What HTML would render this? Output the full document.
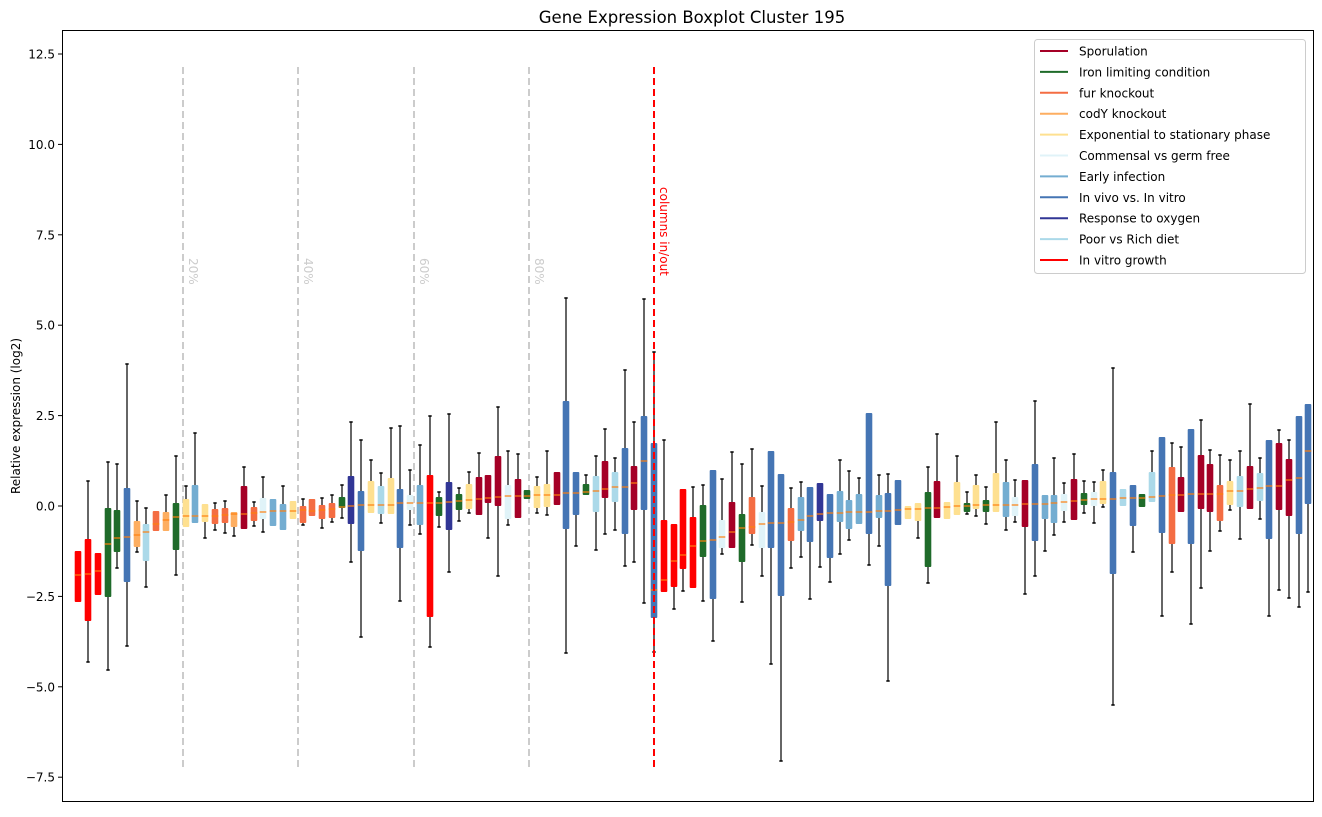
<!DOCTYPE html>
<html><head><meta charset="utf-8"><style>
html,body{margin:0;padding:0;background:#fff;}
svg text{font-family:"DejaVu Sans","Liberation Sans",sans-serif;}
</style></head><body>
<svg id="s" width="1322" height="812" xmlns="http://www.w3.org/2000/svg">
<rect width="1322" height="812" fill="#fff"/>
<text x="692" y="23" font-size="16.5" text-anchor="middle">Gene Expression Boxplot Cluster 195</text>
<text transform="translate(20,416) rotate(-90)" font-size="12" text-anchor="middle">Relative expression (log2)</text>
<g id="yt" font-size="12" text-anchor="end"></g>
<g stroke="#cccccc" stroke-width="2" stroke-dasharray="7,4">
<line x1="183" y1="67" x2="183" y2="767"/><line x1="298" y1="67" x2="298" y2="767"/>
<line x1="414" y1="67" x2="414" y2="767"/><line x1="529" y1="67" x2="529" y2="767"/>
</g>
<g font-size="12" fill="#cccccc">
<text transform="translate(189,258) rotate(90)">20%</text>
<text transform="translate(304,258) rotate(90)">40%</text>
<text transform="translate(420,258) rotate(90)">60%</text>
<text transform="translate(535,258) rotate(90)">80%</text>
</g>
<g id="bx"></g>
<line x1="654" y1="67" x2="654" y2="767" stroke="#ff0000" stroke-width="2" stroke-dasharray="7,4"/>
<text transform="translate(660,187) rotate(90)" font-size="12" fill="#ff0000">columns in/out</text>
<rect x="62.5" y="30.5" width="1251" height="771" fill="none" stroke="#000" stroke-width="1"/>
<g id="lg"></g>
</svg>
<script>
var C={R:"#ff0000",S:"#a50026",G:"#1f6b2a",F:"#f46d43",C:"#fdae61",E:"#fee090",W:"#e0f3f8",L:"#74add1",B:"#4575b4",N:"#313695",P:"#abd9e9"};
var ns="http://www.w3.org/2000/svg";
function el(t,a,p,txt){var e=document.createElementNS(ns,t);for(var k in a)e.setAttribute(k,a[k]);if(txt)e.textContent=txt;p.appendChild(e);return e;}
var yt=document.getElementById("yt"),s=document.getElementById("s");
[12.5,10,7.5,5,2.5,0,-2.5,-5,-7.5].forEach(function(v){var y=506-36.16*v;
el("line",{x1:58,x2:62,y1:y,y2:y,stroke:"#000"},s);
el("text",{x:55,y:y+4.5},yt,v==0?"0.0":(v<0?"\u2212"+(-v).toFixed(1):v.toFixed(1)));});
var D=[
[78,551,551,575,602,602,"R"],[88,481,539,574,621,662,"R"],[98,553,553,571,595,595,"R"],[108,462,508,544,597,670,"G"],
[117,464,510,538,552,568,"G"],[127,364,488,537,582,646,"B"],[137,501,521,535,547,552,"C"],[146,508,524,532,561,587,"P"],
[156,511,511,524,531,531,"F"],[166,495,512,520,531,531,"C"],[176,456,503,517,550,575,"G"],[186,486,499,516,527,527,"E"],
[195,433,485,516,523,523,"L"],[205,504,504,516,522,538,"E"],[215,503,509,516,524,530,"F"],[225,501,508,515,523,533,"F"],
[234,512,512,514,527,536,"C"],[244,467,486,514,529,529,"S"],[254,502,507,513,521,526,"F"],[263,477,498,512,519,532,"W"],
[273,499,499,511,526,526,"L"],[283,486,504,511,530,530,"L"],[293,501,501,511,519,519,"E"],[303,499,506,510,523,525,"F"],
[312,499,499,511,516,516,"F"],[322,498,505,510,519,528,"F"],[332,495,503,509,518,522,"F"],[342,485,497,507,508,518,"G"],
[351,422,476,506,524,562,"N"],[361,440,491,505,551,637,"B"],[371,460,481,505,513,513,"E"],[381,473,486,505,514,523,"P"],
[391,428,478,505,514,514,"E"],[400,426,489,503,548,601,"B"],[410,470,495,503,510,525,"W"],[420,445,485,503,525,534,"L"],
[430,416,475,503,617,647,"R"],[439,492,497,503,516,527,"G"],[449,414,482,502,530,572,"N"],[459,488,494,501,510,521,"G"],
[469,472,484,500,509,513,"E"],[479,453,477,499,515,515,"S"],[488,475,475,498,503,538,"S"],[498,407,456,497,506,576,"S"],
[508,451,485,496,519,525,"W"],[518,454,479,496,518,518,"S"],[527,490,490,496,499,499,"G"],[537,477,486,495,508,513,"E"],
[547,451,484,495,507,515,"E"],[557,472,472,495,505,505,"S"],[566,298,401,493,529,653,"B"],[576,472,472,493,515,546,"B"],
[586,475,484,492,495,495,"G"],[596,456,476,491,512,550,"P"],[605,429,461,489,498,534,"S"],[615,458,472,487,502,530,"P"],
[625,370,448,487,534,566,"B"],[634,422,466,483,510,562,"S"],[644,299,416,461,510,603,"B"],[654,352,443,590,618,652,"B"],
[664,440,520,580,592,592,"R"],[674,524,524,561,587,609,"R"],[683,489,489,555,569,591,"R"],[693,487,517,546,588,588,"R"],
[703,485,505,541,557,601,"G"],[713,470,470,540,599,641,"B"],[722,479,520,537,548,554,"W"],[732,452,502,532,548,548,"S"],
[742,464,514,528,562,602,"G"],[752,449,497,527,534,545,"F"],[762,486,512,524,548,576,"W"],[771,451,451,523,548,664,"B"],
[781,474,474,523,596,761,"B"],[791,488,508,522,541,568,"F"],[801,482,497,520,531,557,"L"],[810,487,487,516,542,599,"B"],
[820,483,483,514,521,567,"N"],[830,494,494,513,558,582,"B"],[840,460,491,513,522,554,"L"],[849,471,500,512,529,540,"L"],
[859,478,494,512,524,524,"L"],[869,413,413,512,534,565,"B"],[879,475,495,511,518,546,"L"],[888,474,493,511,586,681,"B"],
[898,480,480,510,525,525,"B"],[908,506,506,509,519,519,"E"],[918,503,503,509,521,538,"E"],[928,467,492,508,567,583,"G"],
[937,434,481,508,518,518,"S"],[947,502,502,507,519,519,"E"],[957,456,482,506,515,515,"E"],[967,492,503,506,512,514,"G"],
[976,475,485,505,509,516,"E"],[986,487,500,505,512,524,"G"],[996,422,473,505,512,512,"E"],[1006,460,482,505,517,530,"L"],
[1015,480,497,505,516,522,"W"],[1025,480,480,504,527,594,"S"],[1035,401,464,504,541,576,"B"],[1045,495,495,504,519,551,"L"],
[1054,458,495,503,523,535,"L"],[1064,483,494,502,511,522,"W"],[1074,454,479,501,520,520,"S"],[1084,481,493,500,505,513,"G"],
[1094,482,492,499,506,523,"W"],[1103,470,481,499,504,507,"E"],[1113,368,472,499,574,705,"B"],[1123,489,489,498,506,506,"P"],
[1133,485,485,498,526,552,"B"],[1142,494,494,498,507,507,"G"],[1152,451,472,497,502,502,"P"],[1162,437,437,496,533,616,"B"],
[1172,443,467,495,544,572,"F"],[1181,447,477,495,512,512,"S"],[1191,429,429,494,544,624,"B"],[1201,420,455,494,509,588,"S"],
[1210,450,464,494,512,551,"S"],[1220,455,485,494,521,531,"F"],[1230,460,481,491,505,510,"E"],[1240,451,476,491,507,539,"P"],
[1250,404,466,489,509,509,"S"],[1260,458,473,488,501,519,"P"],[1269,440,440,486,539,616,"B"],[1279,430,443,486,510,590,"S"],
[1289,440,459,480,516,598,"S"],[1299,416,416,478,534,607,"B"],[1308,404,404,451,504,592,"B"]];
var g=document.getElementById("bx");
D.forEach(function(d){var x=d[0],c=C[d[6]];
el("line",{x1:x,x2:x,y1:d[1],y2:d[5],stroke:"#000","stroke-width":1.2},g);
if(d[1]<d[2])el("line",{x1:x-1.7,x2:x+1.7,y1:d[1],y2:d[1],stroke:"#000","stroke-width":1.5},g);
if(d[5]>d[4])el("line",{x1:x-1.7,x2:x+1.7,y1:d[5],y2:d[5],stroke:"#000","stroke-width":1.5},g);
el("rect",{x:x-3.3,y:d[2],width:6.6,height:Math.max(d[4]-d[2],1),fill:c,rx:1},g);
el("line",{x1:x-3.3,x2:x+3.3,y1:d[3],y2:d[3],stroke:"#ff7f0e","stroke-width":1.2},g);});
var lg=document.getElementById("lg");
el("rect",{x:1034.5,y:39.5,width:271,height:234,rx:3,fill:"#fff","fill-opacity":0.8,stroke:"#cccccc"},lg);
[["Sporulation","S"],["Iron limiting condition","G"],["fur knockout","F"],["codY knockout","C"],["Exponential to stationary phase","E"],["Commensal vs germ free","W"],["Early infection","L"],["In vivo vs. In vitro","B"],["Response to oxygen","N"],["Poor vs Rich diet","P"],["In vitro growth","R"]].forEach(function(it,i){
var y=51+i*20.9;el("line",{x1:1040,x2:1068,y1:y,y2:y,stroke:C[it[1]],"stroke-width":2},lg);
el("text",{x:1079,y:y+4.5,"font-size":12},lg,it[0]);});
</script>
</body></html>
